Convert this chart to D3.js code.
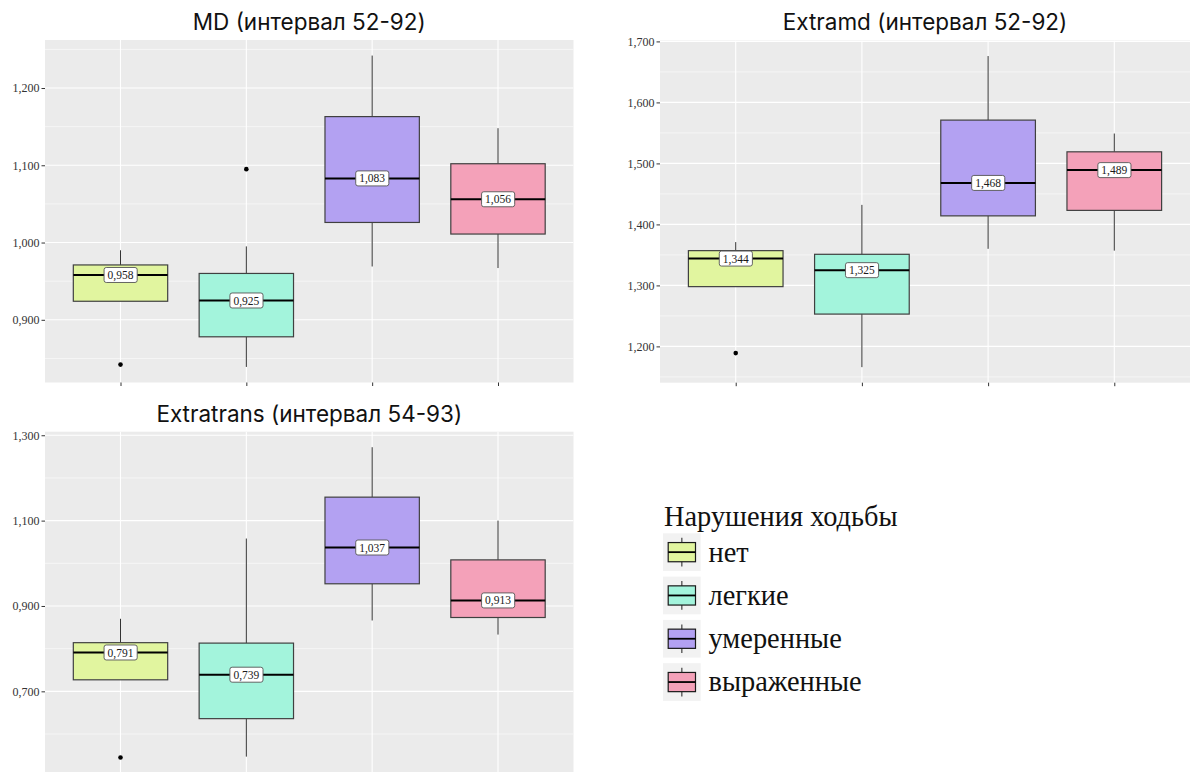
<!DOCTYPE html>
<html>
<head>
<meta charset="utf-8">
<script src="https://cdn.jsdelivr.net/npm/d3@7"></script>
<style>
  html, body { margin: 0; padding: 0; background: #ffffff; }
  svg { display: block; }
</style>
</head>
<body>
<svg id="chart" width="1192" height="772"></svg>
<script>
// Gait-impairment groups (legend order)
const groups = ["нет", "легкие", "умеренные", "выраженные"];
const legendTitle = "Нарушения ходьбы";

// MD (интервал 52-92): whisker ends, quartiles, medians, outliers
const mdTitle = "MD (интервал 52-92)";
const mdLow    = [0.924, 0.839, 0.969, 0.967];
const mdQ1     = [0.924, 0.878, 1.026, 1.011];
const mdMedian = [0.958, 0.925, 1.083, 1.056];
const mdQ3     = [0.971, 0.960, 1.163, 1.102];
const mdHigh   = [0.990, 0.995, 1.242, 1.148];
const mdOutliers = [[0.842], [1.095], [], []];
const mdTicks  = [0.9, 1.0, 1.1, 1.2];

// Extramd (интервал 52-92)
const extramdTitle = "Extramd (интервал 52-92)";
const extramdLow    = [1.298, 1.166, 1.360, 1.357];
const extramdQ1     = [1.298, 1.253, 1.414, 1.423];
const extramdMedian = [1.344, 1.325, 1.468, 1.489];
const extramdQ3     = [1.357, 1.351, 1.571, 1.519];
const extramdHigh   = [1.371, 1.432, 1.676, 1.549];
const extramdOutliers = [[1.189], [], [], []];
const extramdTicks  = [1.2, 1.3, 1.4, 1.5, 1.6, 1.7];

// Extratrans (интервал 54-93)
const extratransTitle = "Extratrans (интервал 54-93)";
const extratransLow    = [0.727, 0.547, 0.866, 0.833];
const extratransQ1     = [0.727, 0.636, 0.952, 0.873];
const extratransMedian = [0.791, 0.739, 1.037, 0.913];
const extratransQ3     = [0.814, 0.813, 1.155, 1.008];
const extratransHigh   = [0.870, 1.058, 1.272, 1.100];
const extratransOutliers = [[0.545], [], [], []];
const extratransTicks  = [0.7, 0.9, 1.1, 1.3];

// Fill colours per group
const palette = ["#e1f59f", "#a3f4dc", "#b3a1f2", "#f4a1b9"];

const svg = d3.select("#chart");
const fmt = v => d3.format(".3f")(v).replace(".", ",");

const TITLE_FONT = "Inter, 'Open Sans', sans-serif";
const SERIF = "'Liberation Serif', 'DejaVu Serif', serif";

function drawPanel(cfg) {
  const { x0, x1, y0, y1, title, low, q1, med, q3, high, outliers, ticks } = cfg;

  // y domain: data extent expanded by 5% each side
  const allVals = low.concat(high, outliers.flat());
  const lo = d3.min(allVals), hi = d3.max(allVals);
  const pad = (hi - lo) * 0.05;
  const y = d3.scaleLinear().domain([lo - pad, hi + pad]).range([y1, y0]);

  // discrete x with 0.6-unit expansion on both sides
  const x = d3.scalePoint().domain(groups).range([x0, x1]).padding(0.6);
  const boxW = x.step() * 0.75;

  const g = svg.append("g");
  const clipId = "clip" + Math.round(x0) + "_" + Math.round(y0);
  svg.append("clipPath").attr("id", clipId)
    .append("rect").attr("x", x0).attr("y", y0).attr("width", x1 - x0).attr("height", y1 - y0);

  // panel background
  g.append("rect").attr("x", x0).attr("y", y0).attr("width", x1 - x0).attr("height", y1 - y0)
    .attr("fill", "#ebebeb");

  const grid = g.append("g").attr("clip-path", `url(#${clipId})`);
  // minor grid: midpoints between major ticks, extended one step beyond each end
  const step = ticks[1] - ticks[0];
  const minor = [];
  for (let i = -1; i < ticks.length; i++) minor.push(ticks[0] + step * (i + 0.5));
  grid.selectAll("line.minor").data(minor).join("line")
    .attr("x1", x0).attr("x2", x1)
    .attr("y1", d => y(d)).attr("y2", d => y(d))
    .attr("stroke", "#ffffff").attr("stroke-width", 0.55);
  grid.selectAll("line.major").data(ticks).join("line")
    .attr("x1", x0).attr("x2", x1)
    .attr("y1", d => y(d)).attr("y2", d => y(d))
    .attr("stroke", "#ffffff").attr("stroke-width", 1.1);
  grid.selectAll("line.vmajor").data(groups).join("line")
    .attr("x1", d => x(d)).attr("x2", d => x(d))
    .attr("y1", y0).attr("y2", y1)
    .attr("stroke", "#ffffff").attr("stroke-width", 1.1);

  // y axis
  const yAxis = d3.axisLeft(y).tickValues(ticks).tickFormat(fmt).tickSize(3.5).tickPadding(2);
  const ya = g.append("g").attr("transform", `translate(${x0},0)`).call(yAxis);
  ya.select(".domain").remove();
  ya.selectAll(".tick line").attr("stroke", "#333333").attr("stroke-width", 1);
  ya.selectAll(".tick text").attr("font-family", SERIF).attr("font-size", 12).attr("fill", "#333333");

  // x axis: tick marks only
  const xAxis = d3.axisBottom(x).tickSize(3.5).tickFormat("");
  const xa = g.append("g").attr("transform", `translate(0,${y1})`).call(xAxis);
  xa.select(".domain").remove();
  xa.selectAll(".tick line").attr("stroke", "#333333").attr("stroke-width", 1);

  // boxes
  const rows = groups.map((grp, i) => ({
    grp, i, low: low[i], q1: q1[i], med: med[i], q3: q3[i], high: high[i], out: outliers[i]
  }));
  const bx = g.append("g");
  const item = bx.selectAll("g.box").data(rows).join("g");
  item.append("line")
    .attr("x1", d => x(d.grp)).attr("x2", d => x(d.grp))
    .attr("y1", d => y(d.q3)).attr("y2", d => y(d.high))
    .attr("stroke", "#333333").attr("stroke-width", 1);
  item.append("line")
    .attr("x1", d => x(d.grp)).attr("x2", d => x(d.grp))
    .attr("y1", d => y(d.q1)).attr("y2", d => y(d.low))
    .attr("stroke", "#333333").attr("stroke-width", 1);
  item.append("rect")
    .attr("x", d => x(d.grp) - boxW / 2).attr("width", boxW)
    .attr("y", d => y(d.q3)).attr("height", d => y(d.q1) - y(d.q3))
    .attr("fill", d => palette[d.i]).attr("stroke", "#404040").attr("stroke-width", 1.2);
  item.append("line")
    .attr("x1", d => x(d.grp) - boxW / 2).attr("x2", d => x(d.grp) + boxW / 2)
    .attr("y1", d => y(d.med)).attr("y2", d => y(d.med))
    .attr("stroke", "#000000").attr("stroke-width", 2);
  item.selectAll("circle").data(d => d.out.map(v => ({ grp: d.grp, v }))).join("circle")
    .attr("cx", d => x(d.grp)).attr("cy", d => y(d.v)).attr("r", 2.3)
    .attr("fill", "#000000");

  // median labels
  const lab = item.append("g").attr("transform", d => `translate(${x(d.grp)},${y(d.med)})`);
  lab.append("text")
    .attr("text-anchor", "middle").attr("dy", "0.35em")
    .attr("font-family", SERIF).attr("font-size", 11.5).attr("fill", "#1a1a1a")
    .text(d => fmt(d.med));
  lab.each(function () {
    const gsel = d3.select(this);
    const b = gsel.select("text").node().getBBox();
    gsel.insert("rect", "text")
      .attr("x", b.x - 3.5).attr("y", -7.5)
      .attr("width", b.width + 7).attr("height", 15)
      .attr("rx", 2.2).attr("ry", 2.2)
      .attr("fill", "#ffffff").attr("stroke", "#555555").attr("stroke-width", 0.9);
  });

  // title
  svg.append("text")
    .attr("x", (x0 + x1) / 2).attr("y", cfg.titleY)
    .attr("text-anchor", "middle")
    .attr("font-family", TITLE_FONT).attr("font-size", 22.5)
    .attr("fill", "#111111")
    .text(title);
}

drawPanel({ x0: 45, x1: 573.5, y0: 40, y1: 382.5, titleY: 30,
  title: mdTitle, low: mdLow, q1: mdQ1, med: mdMedian, q3: mdQ3, high: mdHigh,
  outliers: mdOutliers, ticks: mdTicks });

drawPanel({ x0: 660, x1: 1190, y0: 40.5, y1: 382.7, titleY: 29.5,
  title: extramdTitle, low: extramdLow, q1: extramdQ1, med: extramdMedian, q3: extramdQ3,
  high: extramdHigh, outliers: extramdOutliers, ticks: extramdTicks });

drawPanel({ x0: 45, x1: 573.5, y0: 431.7, y1: 773, titleY: 421.5,
  title: extratransTitle, low: extratransLow, q1: extratransQ1, med: extratransMedian,
  q3: extratransQ3, high: extratransHigh, outliers: extratransOutliers, ticks: extratransTicks });

// legend
const legend = svg.append("g").attr("transform", "translate(663,0)");
legend.append("text")
  .attr("x", 1).attr("y", 526)
  .attr("font-family", SERIF).attr("font-size", 28.4).attr("fill", "#111111")
  .text(legendTitle);
const keySize = 37.7, keyGap = 43.3, keyTop = 533.3;
const keys = legend.selectAll("g.key").data(groups).join("g")
  .attr("transform", (d, i) => `translate(0,${keyTop + i * keyGap})`);
keys.append("rect").attr("width", keySize).attr("height", keySize).attr("fill", "#f2f2f2");
keys.append("line")
  .attr("x1", keySize / 2).attr("x2", keySize / 2).attr("y1", 4.5).attr("y2", keySize - 4.5)
  .attr("stroke", "#333333").attr("stroke-width", 1.1);
keys.append("rect")
  .attr("x", 5.2).attr("y", keySize / 2 - 9.6).attr("width", keySize - 10.4).attr("height", 19.2)
  .attr("fill", (d, i) => palette[i]).attr("stroke", "#1a1a1a").attr("stroke-width", 1.2);
keys.append("line")
  .attr("x1", 5.2).attr("x2", keySize - 5.2).attr("y1", keySize / 2).attr("y2", keySize / 2)
  .attr("stroke", "#000000").attr("stroke-width", 1.8);
keys.append("text")
  .attr("x", 45.5).attr("y", keySize / 2).attr("dy", "0.33em")
  .attr("font-family", SERIF).attr("font-size", 28.4).attr("fill", "#111111")
  .text(d => d);
</script>
</body>
</html>
